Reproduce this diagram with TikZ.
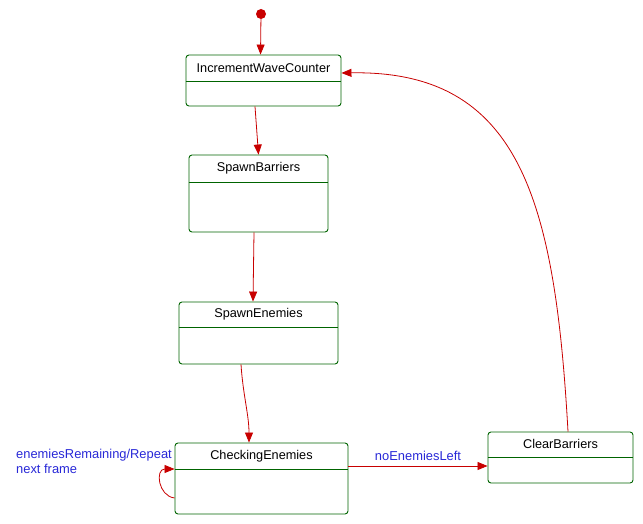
\documentclass[tikz,border=0pt]{standalone}
\usepackage{fontspec}
\setmainfont{Liberation Sans}
\usetikzlibrary{arrows.meta,calc}
\definecolor{lred}{RGB}{200,0,0}
\definecolor{bgreen}{RGB}{0,100,0}
\definecolor{tblue}{RGB}{40,40,215}
\tikzset{
  statebox/.style={draw=bgreen, line width=0.9pt, rounded corners=3pt, inner sep=0pt},
  divider/.style={draw=bgreen, line width=0.9pt},
  stext/.style={font=\fontsize{12.7}{14}\selectfont, text=black, inner sep=0pt},
  trans/.style={draw=lred, line width=0.8pt, -{Triangle[length=10pt,width=8pt]}},
  tlabel/.style={font=\fontsize{12.9}{15}\selectfont, text=tblue, inner sep=0pt, align=left},
  initdot/.style={circle, fill=lred, inner sep=0pt, minimum size=10pt}
}
\newcommand{\mystate}[7]{%
  \node[statebox, minimum width=#4pt, minimum height=#5pt] (#1) at (#2,#3) {};
  \draw[divider] (#1.west |- 0,#6) -- (#1.east |- 0,#6);
  \node[stext] (#1-t) at ($(#1.north)!0.5!(#1.north |- 0,#6)$) {#7};
}
\begin{document}
\begin{tikzpicture}[x=1pt,y=-1pt]
\useasboundingbox (0,0) rectangle (643,524);
\node[initdot] (start) at (261,14) {};
\mystate{iwc}{263.5}{80.5}{155}{51}{81}{IncrementWaveCounter}
\mystate{sb}{258.5}{193.5}{139}{77}{182}{SpawnBarriers}
\mystate{se}{258.5}{333}{159}{62}{327}{SpawnEnemies}
\mystate{ce}{261.5}{478.5}{173}{71}{469}{CheckingEnemies}
\mystate{cb}{560.5}{457.5}{145}{51}{457}{ClearBarriers}
\coordinate (loopA) at (158,496);
\coordinate (loopB) at (155,469);
\coordinate (arcA) at (555,200);
\coordinate (arcB) at (520,70);
\draw[trans] (start) -- ([xshift=-3pt]iwc.north);
\draw[trans] ([xshift=-8.5pt]iwc.south) -- (sb.north);
\draw[trans] ([xshift=-4.5pt]sb.south) -- ([xshift=-5.5pt]se.north);
\draw[trans] ([xshift=-17.5pt]se.south) .. controls (243,395) and (249,415) .. ([xshift=-12.5pt]ce.north);
\draw[trans] (ce.east |- 0,466) -- node[tlabel, above=5pt] (lbl1) {noEnemiesLeft} (cb.west |- 0,466);
\draw[trans] ([xshift=7.5pt]cb.north) .. controls (arcA) and (arcB) .. ([yshift=7.5pt]iwc.east);
\draw[trans] (ce.west |- 0,498) .. controls (loopA) and (loopB) .. (ce.west |- 0,469);
\node[tlabel, anchor=west] (lbl2) at (16,461.5) {enemiesRemaining/Repeat\\next frame};
\end{tikzpicture}
\end{document}
